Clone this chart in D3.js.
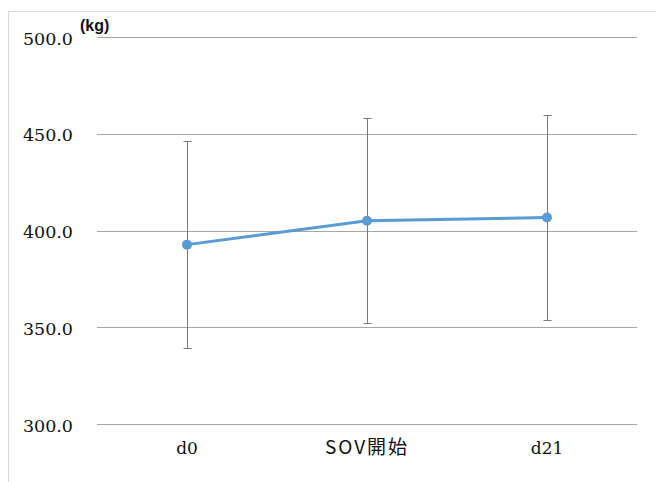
<!DOCTYPE html>
<html><head><meta charset="utf-8">
<script src="https://cdn.jsdelivr.net/npm/d3@7"></script>
<style>html,body{margin:0;padding:0;background:#fff;}</style>
</head><body>
<svg id="chart" width="656" height="482"></svg>
<script>
const categories = ["d0", "SOV開始", "d21"];
const means = [392.7, 405.0, 406.7];
const errors = [53.5, 52.9, 52.9];
const yTicks = [300, 350, 400, 450, 500];
const unitLabel = "(kg)";

const svg = d3.select("#chart");
const plot = {left: 97, right: 637, top: 37, bottom: 424};

// chart border
svg.append("rect").attr("x", 8.5).attr("y", 11.5).attr("width", 700).attr("height", 600)
  .attr("fill", "none").attr("stroke", "#d9d9d9").attr("stroke-width", 1);

const x = d3.scaleBand().domain(categories).range([plot.left, plot.right]);
const y = d3.scaleLinear().domain([300, 500]).range([plot.bottom, plot.top]);

// gridlines
svg.append("g").selectAll("line").data(yTicks).join("line")
  .attr("x1", plot.left).attr("x2", plot.right)
  .attr("y1", d => Math.round(y(d)) + 0.5).attr("y2", d => Math.round(y(d)) + 0.5)
  .attr("stroke", "#a6a6a6").attr("stroke-width", 1);

// y axis labels
const yAxis = d3.axisLeft(y).tickValues(yTicks).tickFormat(d3.format(".1f")).tickSize(0).tickPadding(0);
const ya = svg.append("g").attr("transform", `translate(73,0)`).call(yAxis);
ya.select(".domain").remove();
ya.selectAll("text").attr("font-family", "'DejaVu Serif', serif").attr("font-size", 17.5)
  .attr("fill", "#111").attr("dy", "0.4em");

// x axis labels
const isCJK = d => /[\u3000-\u9fff]/.test(d);
const xAxis = d3.axisBottom(x).tickSize(0).tickPadding(0);
const xa = svg.append("g").attr("transform", `translate(0,${plot.bottom})`).call(xAxis);
xa.select(".domain").remove();
xa.selectAll("text")
  .attr("font-family", d => isCJK(d) ? "'Noto Sans CJK JP', sans-serif" : "'DejaVu Serif', serif")
  .attr("font-size", d => isCJK(d) ? 19 : 17)
  .attr("letter-spacing", d => isCJK(d) ? "2px" : null)
  .attr("fill", "#111").attr("dy", null).attr("y", 30);

// unit label
svg.append("text").attr("x", 80).attr("y", 31).text(unitLabel)
  .attr("font-family", "'Liberation Sans', Arial, sans-serif").attr("font-weight", "bold")
  .attr("font-size", 16).attr("fill", "#111");

const cx = d => x(d) + x.bandwidth() / 2;
const data = categories.map((c, i) => ({c, m: means[i], e: errors[i]}));

// error bars
const eb = svg.append("g").attr("stroke", "#7a7a7a").attr("stroke-width", 1).attr("fill", "none");
data.forEach(d => {
  const X = Math.round(cx(d.c)) + 0.5;
  eb.append("line").attr("x1", X).attr("x2", X).attr("y1", y(d.m + d.e)).attr("y2", y(d.m - d.e));
  [d.m + d.e, d.m - d.e].forEach(v => {
    eb.append("line").attr("x1", X - 4).attr("x2", X + 4)
      .attr("y1", Math.round(y(v)) + 0.5).attr("y2", Math.round(y(v)) + 0.5);
  });
});

// line
const line = d3.line().x(d => cx(d.c)).y(d => y(d.m));
svg.append("path").datum(data).attr("d", line).attr("fill", "none")
  .attr("stroke", "#5b9bd5").attr("stroke-width", 3).attr("stroke-linejoin", "round");

svg.append("g").selectAll("circle").data(data).join("circle")
  .attr("cx", d => cx(d.c)).attr("cy", d => y(d.m)).attr("r", 5)
  .attr("fill", "#5b9bd5");
</script>
</body></html>
